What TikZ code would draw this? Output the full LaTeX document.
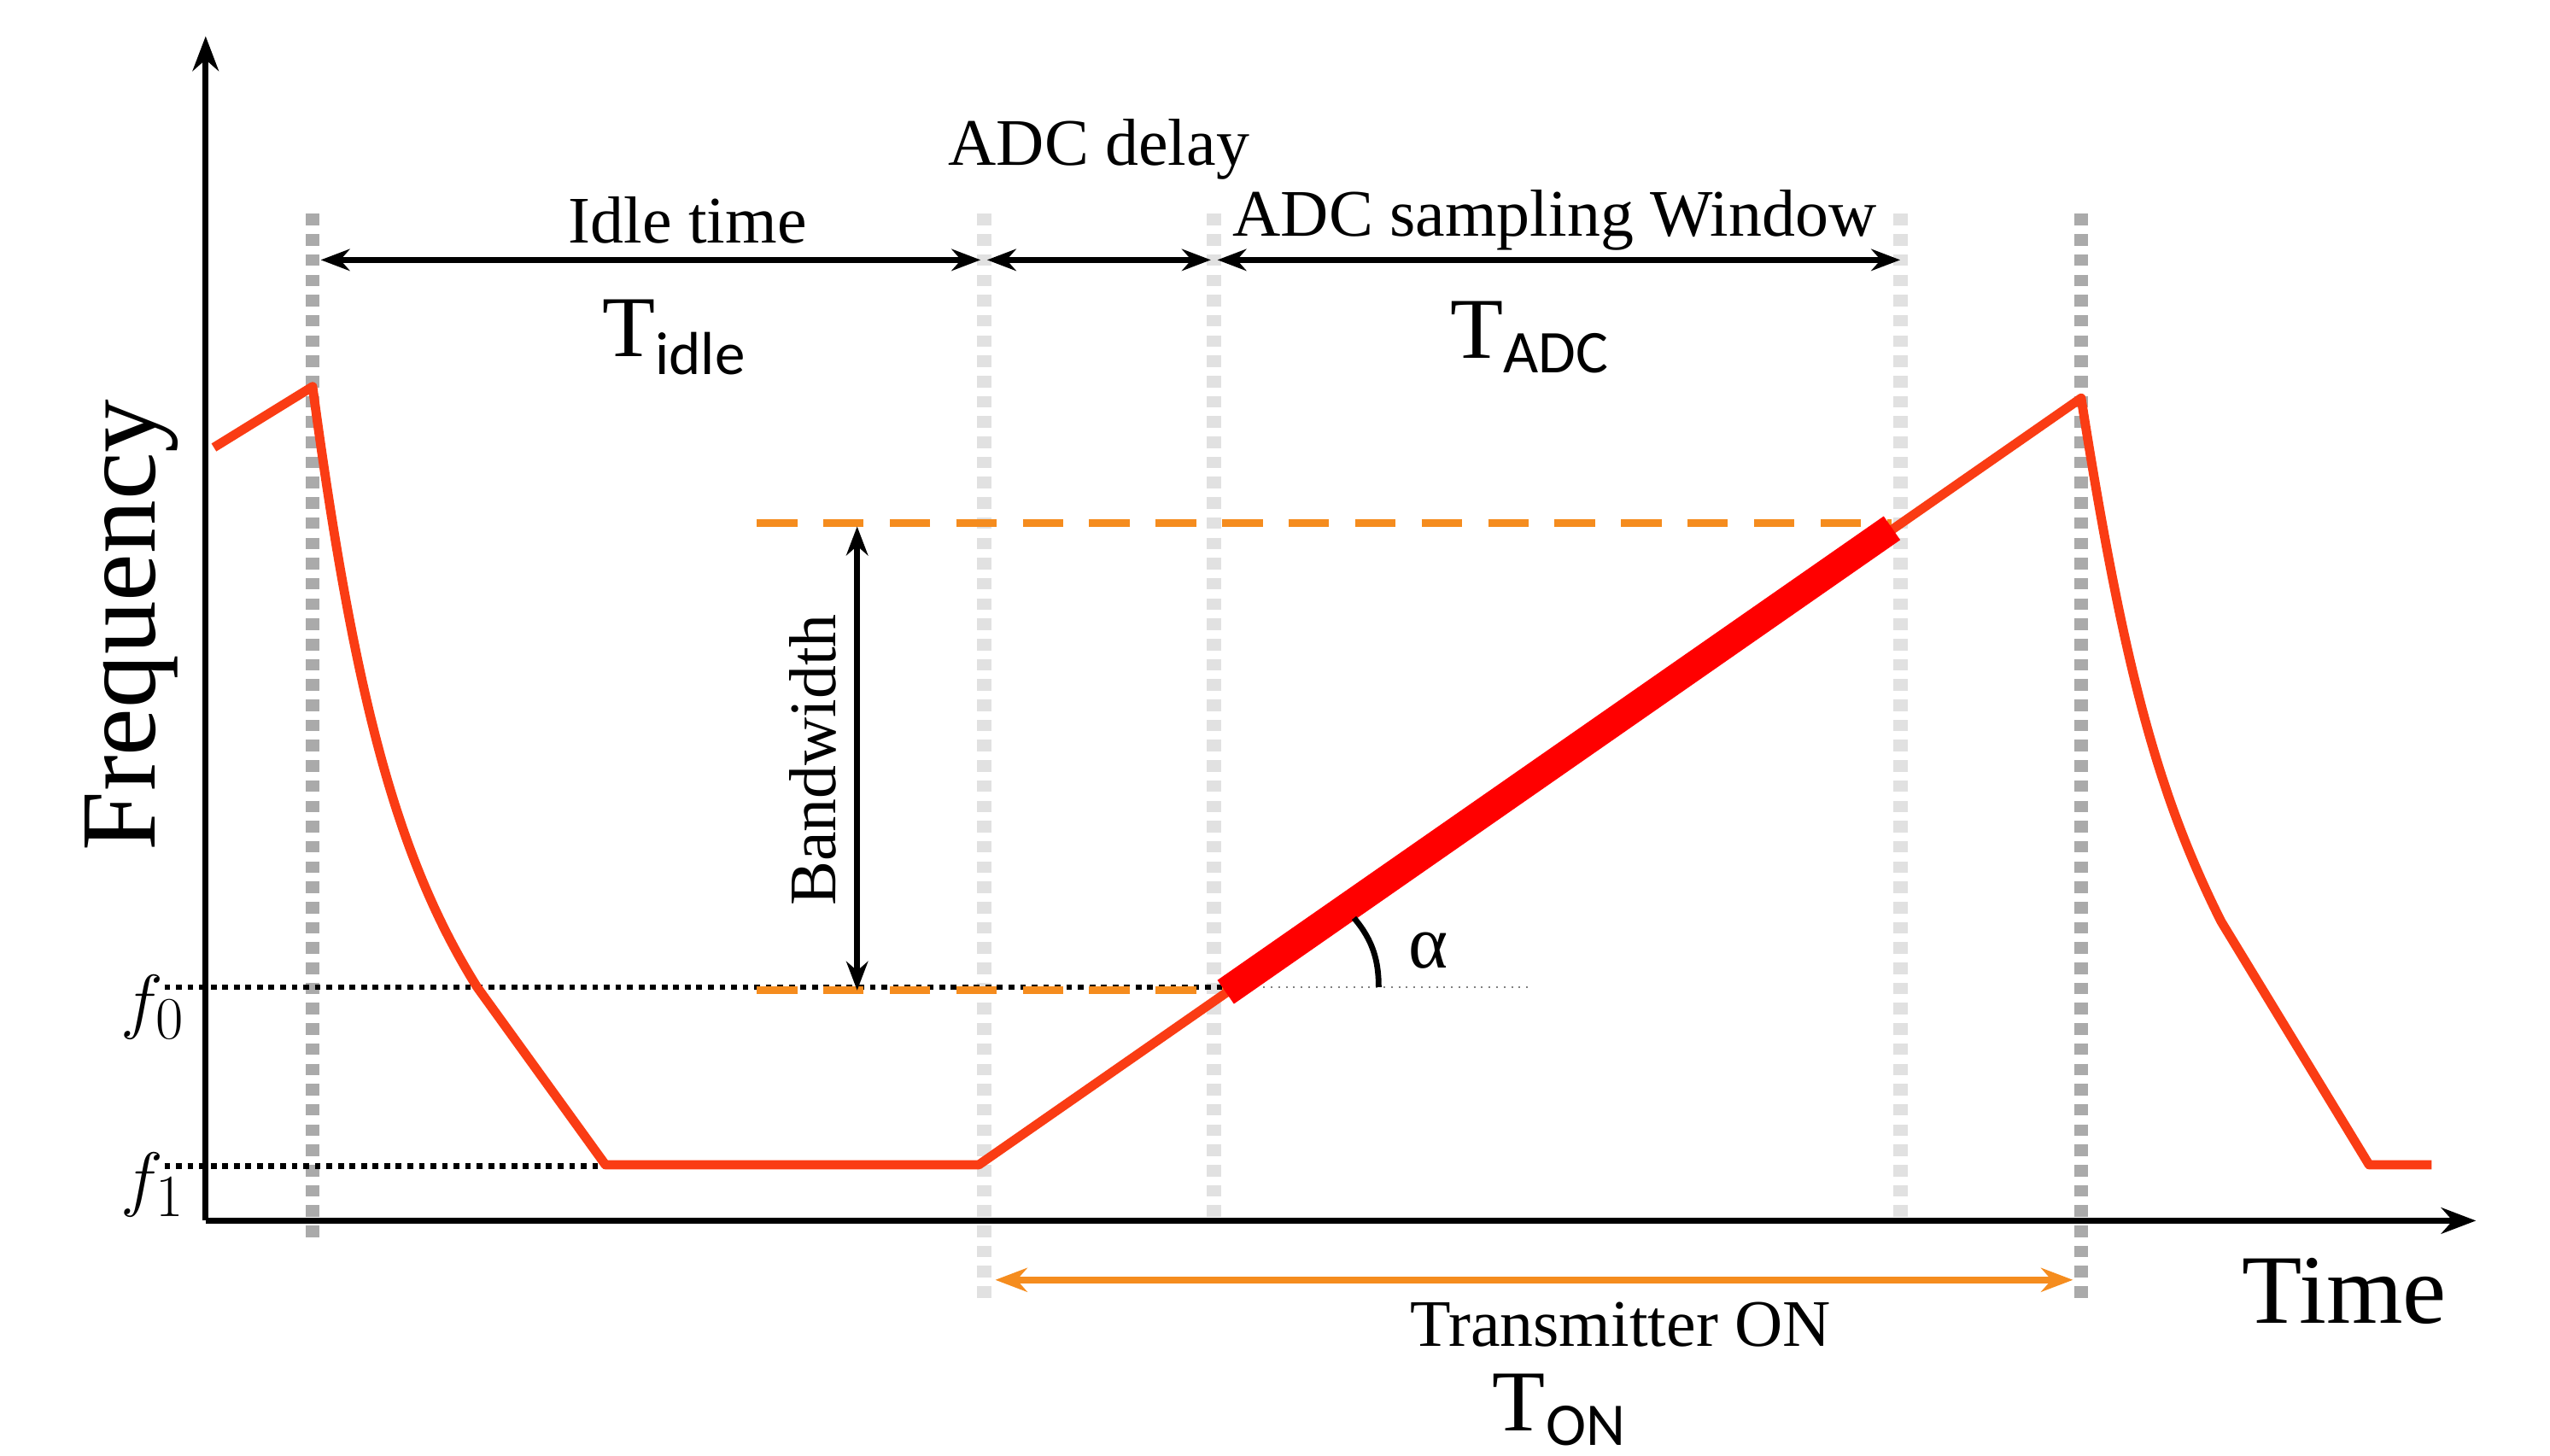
\documentclass[tikz,border=0pt]{standalone}
\usepackage{fontspec}
\setmainfont{Liberation Serif}
\newfontfamily\subf{Carlito}
\usetikzlibrary{arrows.meta}
\definecolor{cred}{RGB}{250,60,20}
\definecolor{corange}{RGB}{245,140,30}
\definecolor{gdark}{RGB}{170,170,170}
\definecolor{glight}{RGB}{225,225,225}
\tikzset{
 lbl/.style={font=\fontsize{23}{26}\selectfont, inner sep=1pt},
 big/.style={font=\fontsize{30}{34}\selectfont, inner sep=0pt},
 gd/.style={gdark, line width=5pt, dash pattern=on 4pt off 3pt},
 gl/.style={glight, line width=5pt, dash pattern=on 4pt off 3pt},
 curve/.style={cred, line width=3.2pt, line join=round},
 od/.style={corange, line width=2.6pt, dash pattern=on 14pt off 9pt},
 dim/.style={{Stealth[length=10pt]}-{Stealth[length=10pt]}, line width=2.2pt},
}
\begin{document}
\begin{tikzpicture}[x=0.02cm,y=-0.02cm]
\useasboundingbox (0,0) rectangle (1550,885);
% gray guides
\draw[gd] (190,130) -- (190,755);
\draw[gl] (598,130) -- (598,790);
\draw[gl] (738,130) -- (738,740);
\draw[gl] (1155,130) -- (1155,740);
\draw[gd] (1265,130) -- (1265,790);
% axes
\draw[-{Stealth[length=12pt]}, line width=2pt] (125,742) -- (125,22);
\draw[-{Stealth[length=12pt]}, line width=2pt] (125,742) -- (1505,742);
% dotted level lines
\draw[black, line width=2pt, dotted] (100,600) -- (745,600);
\draw[black, line width=2pt, dotted] (100,709) -- (368,709);
\draw[gray, line width=0.6pt, dotted] (745,600) -- (930,600);
% orange dashed
\draw[od] (460,318) -- (1150,318);
\draw[od] (460,602) -- (745,602);
% red curve
\draw[curve] (130,272) -- (190,235) .. controls (215,420) and (240,520) .. (290,600) -- (368,708) -- (595,708) -- (1265,242) .. controls (1290,400) and (1310,480) .. (1350,560) -- (1440,708) -- (1478,708);
\draw[red, line width=10pt] (745,603) -- (1150,321);
% angle
\draw[line width=2pt] (823,558) .. controls (835,572) and (838,585) .. (838,600);
\node[lbl, font=\fontsize{26}{28}\selectfont] (al) at (868,578) {α};
% bandwidth
\draw[dim] (521,320) -- (521,602);
\node[lbl, rotate=90] (bw) at (494,462) {Bandwidth};
% top dims
\draw[dim] (195,158) -- (596,158);
\draw[dim] (600,158) -- (736,158);
\draw[dim] (740,158) -- (1155,158);
\node[lbl] (it) at (418,134) {Idle time};
\node[lbl] (ad) at (668,91) {ADC delay};
\node[lbl] (aw) at (945,134) {ADC sampling Window};
\node[big] (ti) at (410,205) {T\textsubscript{\subf idle}};
\node[big] (ta) at (930,205) {T\textsubscript{\subf ADC}};
% transmitter
\draw[{Stealth[length=11pt]}-{Stealth[length=11pt]}, corange, line width=2.4pt] (605,778) -- (1260,778);
\node[lbl] (tx) at (985,805) {Transmitter ON};
\node[big] (ton) at (948,857) {T\textsubscript{\subf ON}};
% axis labels
\node[font=\fontsize{37}{40}\selectfont, rotate=90] (fr) at (80,380) {Frequency};
\node[font=\fontsize{34}{38}\selectfont] (tm) at (1425,785) {Time};
\node[font=\fontsize{30}{32}\selectfont] (f0) at (93,612) {$f_0$};
\node[font=\fontsize{30}{32}\selectfont] (f1) at (93,720) {$f_1$};
\end{tikzpicture}
\end{document}
